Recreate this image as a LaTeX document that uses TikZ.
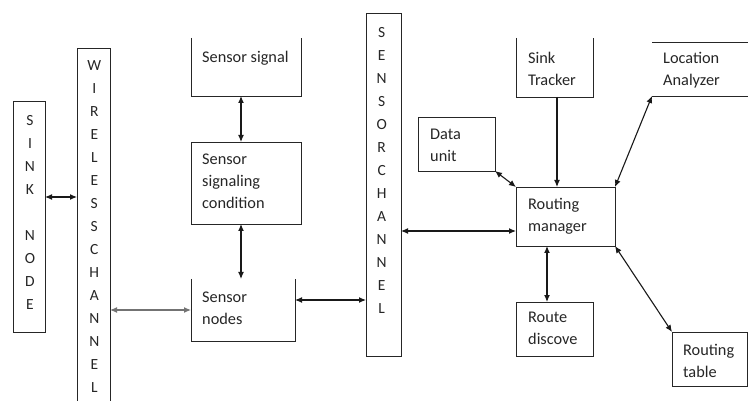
\documentclass[tikz,border=0pt]{standalone}
\usepackage{fontspec}
\setmainfont{Carlito}
\usetikzlibrary{arrows.meta}
\begin{document}
\begin{tikzpicture}[x=1pt,y=-1pt,
  box/.style={draw=black!85, line width=0.9pt, inner sep=0pt, outer sep=0pt},
  shell/.style={inner sep=0pt, outer sep=0pt},
  side/.style={draw=black!85, line width=0.9pt},
  txt/.style={inner sep=0pt, anchor=north west, align=left, text=black!85, font=\fontsize{16.3}{22}\selectfont},
  vtxt/.style={inner sep=0pt, anchor=north, align=center, text=black!85, font=\fontsize{15.5}{23}\selectfont},
  dbl/.style={line width=1.1pt, black!90, {Latex[length=7pt,width=6pt]}-{Latex[length=7pt,width=6pt]}},
  sgl/.style={line width=1.1pt, black!90, -{Latex[length=7pt,width=6pt]}}
]
\useasboundingbox[fill=white] (0,0) rectangle (748,401);

% boxes
\node[box, minimum width=32pt, minimum height=231pt] (sink) at (29,216.5) {};
\node[shell, minimum width=33pt, minimum height=360pt] (wire) at (93.5,228) {};
\draw[side] (wire.south west) -- (wire.north west) -- (wire.north east) -- (wire.south east);
\node[shell, minimum width=110pt, minimum height=58pt] (sig) at (246,67) {};
\draw[side] (sig.north west) |- (sig.south east) -- (sig.north east);
\node[box, minimum width=110pt, minimum height=82pt] (cond) at (246,183) {};
\node[shell, minimum width=104pt, minimum height=62pt] (nodes) at (243,310) {};
\draw[side] (nodes.north west) |- (nodes.south east) -- (nodes.north east);
\node[box, minimum width=35pt, minimum height=343pt] (schan) at (383.5,184.5) {};
\node[shell, minimum width=77pt, minimum height=59pt] (tracker) at (554.5,67.5) {};
\draw[side] (tracker.north west) |- (tracker.south east) -- (tracker.north east);
\node[shell, minimum width=96pt, minimum height=54pt] (loc) at (700,69) {};
\draw[side] (loc.north west) -- (loc.north east);
\draw[side] (loc.south west) -- (loc.south east);
\node[box, minimum width=77pt, minimum height=54pt] (data) at (456.5,144) {};
\node[box, minimum width=99pt, minimum height=59pt] (rm) at (565.5,216.5) {};
\node[box, minimum width=77pt, minimum height=54pt] (rd) at (554.5,329) {};
\node[box, minimum width=75pt, minimum height=54pt] (rt) at (709.5,359) {};

% texts
\node[vtxt] (sinkT) at (30,115) {S\\I\\N\\K\\\phantom{N}\\N\\O\\D\\E};
\node[vtxt] (wireT) at (94.3,60) {W\\I\\R\\E\\L\\E\\S\\S\\C\\H\\A\\N\\N\\E\\L};
\node[vtxt] (schanT) at (381.7,27) {S\\E\\N\\S\\O\\R\\C\\H\\A\\N\\N\\E\\L};
\node[txt] (sigT) at (202,51) {Sensor signal};
\node[txt] (condT) at (202,154) {Sensor\\signaling\\condition};
\node[txt] (nodesT) at (202,292) {Sensor\\nodes};
\node[txt] (trackerT) at (528,52) {Sink\\Tracker};
\node[txt] (locT) at (663,52) {Location\\Analyzer};
\node[txt] (dataT) at (430,129) {Data\\unit};
\node[txt] (rmT) at (528,198) {Routing\\manager};
\node[txt] (rdT) at (528,312) {Route\\discove};
\node[txt] (rtT) at (683,344) {Routing\\table};

% connectors
\draw[dbl] (sink.east |- 0,197) -- (wire.west |- 0,197);
\draw[dbl, black!55] (wire.east |- nodes.west) -- (nodes.west);
\draw[dbl] ([xshift=-5pt]sig.south) -- ([xshift=-5pt]cond.south |- cond.north);
\draw[dbl] ([xshift=-5pt]cond.south) -- ([xshift=-2pt]nodes.north);
\draw[dbl] ([yshift=10pt]nodes.east) -- ([yshift=10pt]nodes.east -| schan.west);
\draw[dbl] ([yshift=-14.5pt]rm.west -| schan.east) -- ([yshift=-14.5pt]rm.west);
\draw[sgl] ([xshift=2.5pt]tracker.south) -- ([xshift=2.5pt]tracker.south |- rm.north);
\draw[dbl] (data.south east) -- (rm.north west);
\draw[dbl] (loc.south west) -- (rm.north east);
\draw[dbl] ([xshift=-18.5pt]rm.south) -- ([xshift=-7.5pt]rd.north);
\draw[dbl] (rm.south east) -- (rt.north west);
\end{tikzpicture}
\end{document}
